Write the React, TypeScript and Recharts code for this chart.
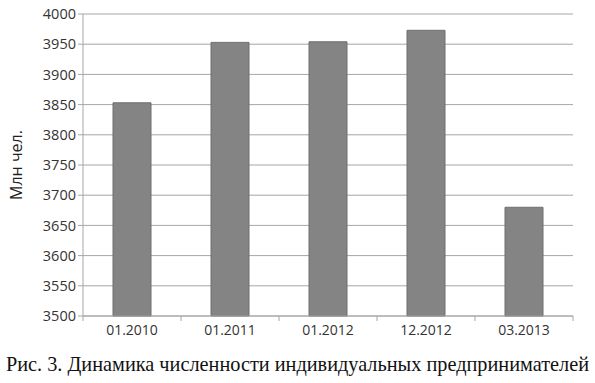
import { BarChart, Bar, XAxis, YAxis, CartesianGrid } from 'recharts';

const periods = ['01.2010', '01.2011', '01.2012', '12.2012', '03.2013'];
const entrepreneurs = [3853, 3953, 3954, 3973, 3680];
const yTicks = [3500, 3550, 3600, 3650, 3700, 3750, 3800, 3850, 3900, 3950, 4000];

const data = periods.map((p, i) => ({ period: p, value: entrepreneurs[i] }));

const AXIS_GRAY = '#a6a6a6';
const BAND = 98;
const FONT = "'Open Sans', sans-serif";

function PeriodTick(props: any) {
  const { x, y, payload, index } = props;
  const last = index === periods.length - 1;
  return (
    <g>
      <line x1={x - BAND / 2} y1={y - 8} x2={x - BAND / 2} y2={y - 3} stroke={AXIS_GRAY} />
      {last && <line x1={x + BAND / 2} y1={y - 8} x2={x + BAND / 2} y2={y - 3} stroke={AXIS_GRAY} />}
      <text x={x} y={y + 11} textAnchor="middle" fontSize={14} fill="#333" fontFamily={FONT}>
        {payload.value}
      </text>
    </g>
  );
}

export default function App() {
  return (
    <div style={{ position: 'absolute', left: 0, top: 0, width: 595, height: 383, background: '#fff' }}>
      <BarChart
        width={595}
        height={345}
        data={data}
        margin={{ top: 14, right: 22, bottom: 0, left: 0 }}
      >
        <CartesianGrid vertical={false} stroke={AXIS_GRAY} />
        <XAxis
          dataKey="period"
          height={29}
          tickLine={false}
          axisLine={{ stroke: AXIS_GRAY }}
          tick={<PeriodTick />}
          interval={0}
        />
        <YAxis
          domain={[3500, 4000]}
          ticks={yTicks}
          width={83}
          interval={0}
          axisLine={{ stroke: AXIS_GRAY }}
          tickLine={{ stroke: AXIS_GRAY }}
          tickSize={5}
          tick={{ fontSize: 14.5, fill: '#333', fontFamily: FONT }}
          label={{
            value: 'Млн чел.',
            angle: -90,
            position: 'insideLeft',
            dx: 11,
            style: { fontSize: 16, fill: '#222', fontFamily: FONT, textAnchor: 'middle' },
          }}
        />
        <Bar dataKey="value" fill="#848484" stroke="#6f6f6f" barSize={38} isAnimationActive={false} />
      </BarChart>
      <div
        style={{
          position: 'absolute',
          left: 0,
          top: 353,
          width: 595,
          textAlign: 'center',
          fontFamily: "'Liberation Serif', 'Times New Roman', serif",
          fontSize: 20.3,
          color: '#111',
          whiteSpace: 'nowrap',
        }}
      >
        Рис. 3. Динамика численности индивидуальных предпринимателей
      </div>
    </div>
  );
}
